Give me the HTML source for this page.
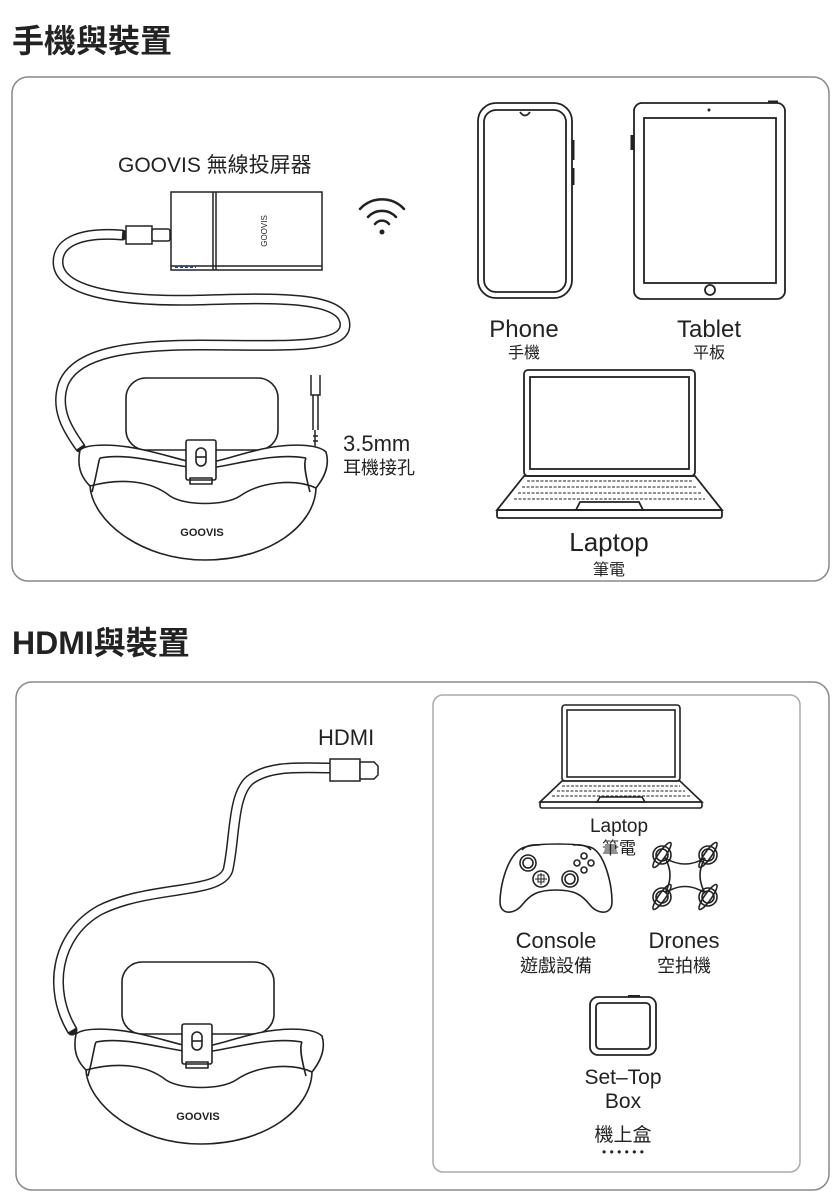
<!DOCTYPE html>
<html><head><meta charset="utf-8"><style>
html,body{margin:0;padding:0;background:#fff;}
svg{display:block;}
text{font-family:"Liberation Sans","Noto Sans CJK TC",sans-serif;fill:#222;}
</style></head><body>
<svg width="838" height="1200" viewBox="0 0 838 1200" xmlns="http://www.w3.org/2000/svg">
<defs>
<g id="rot"><circle cx="0" cy="0" r="9"/><circle cx="0" cy="0" r="6"/><ellipse cx="0" cy="0" rx="15" ry="3.5" transform="rotate(-55)"/></g>
<g id="hs" fill="none" stroke="#222" stroke-width="1.6" stroke-linejoin="round">
  <rect x="126" y="378" width="152" height="72" rx="20" fill="#fff"/>
  <path d="M80,450 C76,470 84,480 90,486 C92,520 140,560 205,560 C270,560 315,525 316,488 C324,478 330,465 326,452 C318,444 290,443 262,449 C232,456 216,463 202,463 C188,463 172,456 144,450 C118,444 88,443 80,450 Z" fill="#fff"/>
  <path d="M90,486 C120,478 150,480 170,496 C185,506 225,506 240,496 C260,482 295,478 316,488"/>
  <path d="M92,492 C98,470 98,462 100,458"/>
  <path d="M310,492 C304,470 304,462 306,458"/>
  <path d="M100,458 C130,452 170,466 202,469 C234,466 272,452 306,458"/>
  <rect x="186" y="440" width="30" height="40" rx="2" fill="#fff"/>
  <rect x="190" y="478" width="22" height="6"/>
  <rect x="196" y="448" width="10" height="18" rx="5"/>
  <line x1="196" y1="457" x2="206" y2="457"/>
  <text x="202" y="536" font-size="11" font-weight="bold" text-anchor="middle" stroke="none">GOOVIS</text>
</g>
</defs>

<text x="12" y="52" font-size="32" font-weight="bold">手機與裝置</text>
<rect x="12" y="77" width="817" height="504" rx="16" fill="none" stroke="#888" stroke-width="1.5"/>

<path d="M122,235 C85,232 58,240 58,262 C58,292 120,302 200,300 C270,298 345,295 345,325 C345,350 280,345 200,345 C130,345 75,352 63,385 C55,410 68,430 80,447" fill="none" stroke="#222" stroke-width="11" stroke-linecap="round"/>
<path d="M122,235 C85,232 58,240 58,262 C58,292 120,302 200,300 C270,298 345,295 345,325 C345,350 280,345 200,345 C130,345 75,352 63,385 C55,410 68,430 80,447" fill="none" stroke="#fff" stroke-width="8"/>

<g fill="none" stroke="#222" stroke-width="1.5">
<rect x="126" y="226" width="26" height="18" fill="#fff"/>
<rect x="152" y="229" width="18" height="12" rx="2" fill="#fff"/>
<rect x="171" y="192" width="151" height="78" fill="#fff"/>
<line x1="213" y1="192" x2="213" y2="270"/><line x1="216" y1="192" x2="216" y2="270"/>
<line x1="171" y1="266" x2="322" y2="266"/>
<line x1="175" y1="267" x2="196" y2="267" stroke="#248" stroke-width="2" stroke-dasharray="3 2"/>
</g>
<text transform="translate(267,231) rotate(-90)" font-size="8" text-anchor="middle">GOOVIS</text>
<text x="118" y="172" font-size="21">GOOVIS 無線投屏器</text>
<g fill="none" stroke="#222" stroke-width="2.5" stroke-linecap="round">
<path d="M360,209 A30,30 0 0 1 404,209"/><path d="M368,217 A19,19 0 0 1 396,217"/><path d="M375,224 A9,9 0 0 1 389,224"/>
</g><circle cx="382" cy="232" r="2.5" fill="#222"/>

<g fill="none" stroke="#222" stroke-width="1.5">
<path d="M311,375 V395 H320 V375"/><path d="M313,395 V430 M318,395 V430"/><path d="M315,430 V448 M313,436 H318 M313,441 H318"/>
</g>
<use href="#hs"/>
<text x="343" y="451" font-size="22">3.5mm</text>
<text x="343" y="474" font-size="18">耳機接孔</text>

<g fill="none" stroke="#222" stroke-width="1.8">
<rect x="478" y="103" width="94" height="195" rx="18"/>
<rect x="484" y="110" width="82" height="182" rx="12"/>
<path d="M520,112 Q525,119 530,112"/>
<line x1="573" y1="140" x2="573" y2="160" stroke-width="3"/><line x1="573" y1="168" x2="573" y2="185" stroke-width="3"/>
<rect x="634" y="103" width="151" height="196" rx="8"/>
<rect x="644" y="118" width="132" height="165"/>
<circle cx="710" cy="290" r="5"/>
<line x1="632" y1="135" x2="632" y2="150" stroke-width="3"/><line x1="768" y1="102" x2="778" y2="102" stroke-width="3"/>
</g>
<circle cx="709" cy="110" r="1.5" fill="#222"/>
<text x="524" y="337" font-size="24" text-anchor="middle">Phone</text>
<text x="524" y="358" font-size="16" text-anchor="middle">手機</text>
<text x="709" y="337" font-size="24" text-anchor="middle">Tablet</text>
<text x="709" y="358" font-size="16" text-anchor="middle">平板</text>

<g fill="none" stroke="#222" stroke-width="1.8">
<rect x="524" y="370" width="171" height="106" rx="4"/>
<rect x="530" y="377" width="159" height="92"/>
<path d="M524,476 L497,510 H722 L695,476 Z"/>
<rect x="497" y="510" width="225" height="8" rx="2"/>
<path d="M527,481 H692 M522,487 H697 M518,493 H701 M514,499 H705" stroke-width="1" stroke-dasharray="3 1.5"/>
<path d="M580,502 L576,510 H643 L639,502 Z"/>
</g>
<text x="609" y="551" font-size="26" text-anchor="middle">Laptop</text>
<text x="609" y="575" font-size="16" text-anchor="middle">筆電</text>

<text x="12" y="654" font-size="32" font-weight="bold">HDMI與裝置</text>
<rect x="16" y="682" width="813" height="508" rx="16" fill="none" stroke="#888" stroke-width="1.5"/>
<rect x="433" y="695" width="367" height="477" rx="10" fill="none" stroke="#aaa" stroke-width="1.5"/>

<path d="M332,768 C300,768 270,765 250,780 C232,795 235,840 228,870 C220,895 150,885 100,910 C55,935 48,990 72,1030" fill="none" stroke="#222" stroke-width="11" stroke-linecap="round"/>
<path d="M332,768 C300,768 270,765 250,780 C232,795 235,840 228,870 C220,895 150,885 100,910 C55,935 48,990 72,1030" fill="none" stroke="#fff" stroke-width="8"/>
<g fill="none" stroke="#222" stroke-width="1.5">
<rect x="330" y="759" width="30" height="22" fill="#fff"/>
<path d="M360,762 H374 L378,766 V775 L374,779 H360 Z" fill="#fff"/>
</g>
<text x="318" y="745" font-size="22">HDMI</text>
<use href="#hs" transform="translate(-4,584)"/>

<g fill="none" stroke="#222" stroke-width="1.6">
<rect x="562" y="705" width="118" height="76" rx="3"/>
<rect x="567" y="710" width="108" height="67"/>
<path d="M562,781 L540,802 H702 L680,781 Z"/>
<rect x="540" y="802" width="162" height="6" rx="2"/>
<path d="M562,786 H680 M557,791 H685 M552,796 H690" stroke-width="1" stroke-dasharray="3 1.5"/>
<path d="M600,797 L597,802 H645 L642,797 Z"/>
</g>
<text x="619" y="832" font-size="19" text-anchor="middle">Laptop</text>
<text x="619" y="854" font-size="17" text-anchor="middle">筆電</text>

<g fill="none" stroke="#222" stroke-width="1.6">
<path d="M525,847 C540,843 575,843 590,847 C605,852 612,885 612,902 C612,915 598,915 590,905 C582,895 575,890 556,890 C537,890 530,895 522,905 C514,915 500,915 500,902 C500,885 508,852 525,847 Z"/>
<path d="M522,850 Q527,844 540,845 M573,845 Q586,844 591,850"/>
<circle cx="528" cy="863" r="8"/><circle cx="528" cy="863" r="5"/>
<circle cx="570" cy="879" r="8"/><circle cx="570" cy="879" r="5"/>
<circle cx="541" cy="879" r="8"/>
<path d="M538,875 H544 V882 H538 Z M541,873 V885 M535,879 H547" stroke-width="1"/>
<circle cx="584" cy="856" r="3"/><circle cx="577" cy="863" r="3"/><circle cx="591" cy="863" r="3"/><circle cx="584" cy="870" r="3"/>
</g>
<g fill="none" stroke="#222" stroke-width="1.6">
<path d="M665,858 Q685,870 705,858 Q695,875 705,893 Q685,880 665,893 Q675,875 665,858 Z" fill="#fff"/>
<use href="#rot" transform="translate(662,855)"/><use href="#rot" transform="translate(708,855)"/>
<use href="#rot" transform="translate(662,897)"/><use href="#rot" transform="translate(708,897)"/>
</g>
<text x="556" y="948" font-size="22" text-anchor="middle">Console</text>
<text x="556" y="972" font-size="18" text-anchor="middle">遊戲設備</text>
<text x="684" y="948" font-size="22" text-anchor="middle">Drones</text>
<text x="684" y="972" font-size="18" text-anchor="middle">空拍機</text>

<g fill="none" stroke="#222" stroke-width="1.8">
<rect x="590" y="997" width="66" height="58" rx="8"/>
<rect x="596" y="1003" width="54" height="46" rx="4"/>
<line x1="628" y1="996" x2="640" y2="996" stroke-width="2"/>
</g>
<text x="623" y="1084" font-size="21" text-anchor="middle">Set–Top</text>
<text x="623" y="1108" font-size="21" text-anchor="middle">Box</text>
<text x="623" y="1141" font-size="19" text-anchor="middle">機上盒</text>
<text x="623" y="1156" font-size="12" text-anchor="middle">• • • • • •</text>
</svg>
</body></html>
